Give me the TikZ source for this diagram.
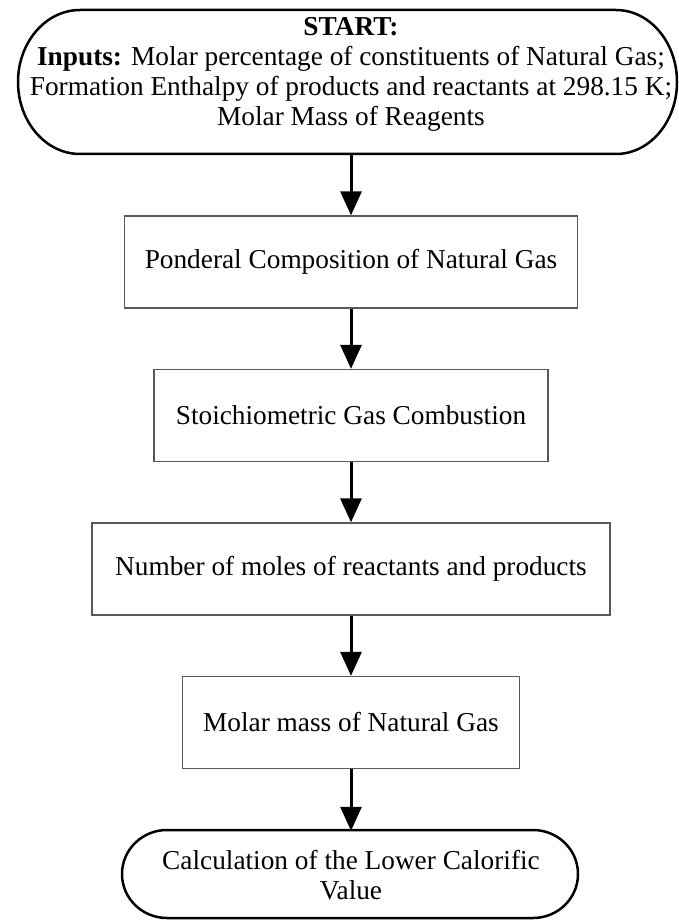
\documentclass[tikz,border=0pt]{standalone}
\usepackage{fontspec}
\setmainfont{Liberation Serif}
\usetikzlibrary{arrows.meta}
\begin{document}
\begin{tikzpicture}[x=1pt,y=-1pt,
  procbox/.style={draw=black!65, line width=1.3pt, minimum height=92pt, inner sep=0pt,
    font=\fontsize{27.3}{30}\selectfont},
  termtext/.style={inner sep=0pt, align=center, font=\fontsize{27.3}{30}\selectfont},
  termline/.style={line width=2.5pt, line join=round},
  flow/.style={line width=3pt, -{Triangle[length=24pt,width=21pt]}}]
\useasboundingbox (0,0) rectangle (678,920);

% start terminator: text and its outline with elliptical end caps
\node[termtext] (start) at (351,74)
  {\textbf{START:}\\
   \textbf{Inputs:} Molar percentage of constituents of Natural Gas;\\
   Formation Enthalpy of products and reactants at 298.15 K;\\
   Molar Mass of Reagents};
\draw[termline] (80,10) -- (616,10)
  arc[start angle=-90, end angle=90, x radius=61, y radius=72]
  -- (80,154)
  arc[start angle=90, end angle=270, x radius=62, y radius=72] -- cycle;
\coordinate (startout) at (351,154);

% process steps
\node[procbox, minimum width=453pt] (ponderal) at (351,262) {Ponderal Composition of Natural Gas};
\node[procbox, minimum width=394pt] (stoich) at (351,415.5) {Stoichiometric Gas Combustion};
\node[procbox, minimum width=518pt] (moles) at (351,569) {Number of moles of reactants and products};
\node[procbox, minimum width=337pt] (molar) at (351,722.5) {Molar mass of Natural Gas};

% end terminator
\node[termtext, minimum height=88pt] (finish) at (351,875)
  {Calculation of the Lower Calorific\\ Value};
\draw[termline] (167,830) -- (533,830)
  arc[start angle=-90, end angle=90, x radius=45, y radius=44]
  -- (167,918)
  arc[start angle=90, end angle=270, x radius=45, y radius=44] -- cycle;

% connectors
\draw[flow] (startout) -- (ponderal.north);
\draw[flow] (ponderal.south) -- (stoich.north);
\draw[flow] (stoich.south) -- (moles.north);
\draw[flow] (moles.south) -- (molar.north);
\draw[flow] (molar.south) -- (finish.north);
\end{tikzpicture}
\end{document}
